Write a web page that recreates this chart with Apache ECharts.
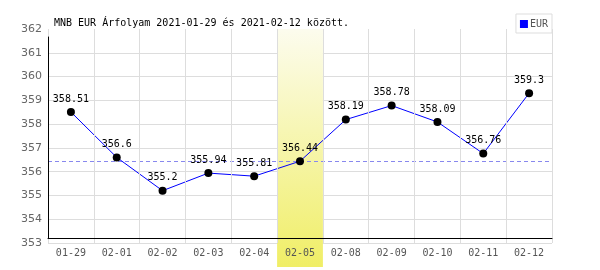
<!DOCTYPE html>
<html><head><meta charset="utf-8">
<script src="https://cdn.jsdelivr.net/npm/echarts@6/dist/echarts.min.js"></script>
<style>html,body{margin:0;padding:0;background:#fff}#c{width:600px;height:270px}</style>
</head><body><div id="c"></div>
<script>
const categories = ['01-29','02-01','02-02','02-03','02-04','02-05','02-08','02-09','02-10','02-11','02-12'];
const eurValues = [358.51, 356.6, 355.2, 355.94, 355.81, 356.44, 358.19, 358.78, 358.09, 356.76, 359.3];
const highlightCategory = '02-05';
const referenceValue = 356.44;
const yMin = 353, yMax = 362, yInterval = 1;
const titleText = 'MNB EUR Árfolyam 2021-01-29 és 2021-02-12 között.';
const seriesName = 'EUR';

const mono = 'DejaVu Sans Mono';
const highlightData = categories.map(c => (c === highlightCategory ? 1 : null));
const chart = echarts.init(document.getElementById('c'), null, {renderer: 'canvas'});
chart.setOption({
  animation: false,
  backgroundColor: '#fff',
  title: {text: titleText, left: 49, top: 13, textStyle: {fontFamily: mono, fontSize: 10, fontWeight: 'normal', color: '#000'}},
  legend: {
    data: [{name: seriesName, itemStyle: {color: '#0000ff'}}], right: 48, top: 14, orient: 'vertical',
    borderColor: '#ddd', borderWidth: 1, padding: [5, 4, 4, 4],
    icon: 'rect', itemWidth: 8, itemHeight: 8, itemGap: 2,
    textStyle: {fontFamily: mono, fontSize: 10, color: '#555', padding: [0, 0, 0, -3]}
  },
  grid: [
    {left: 48, right: 48, top: 29, bottom: 27, containLabel: false},
    {left: 48, right: 48, top: 37, bottom: 32, containLabel: false},
    {left: 48, right: 48, top: 29, bottom: 3, containLabel: false}
  ],
  xAxis: [
    {type: 'category', data: categories, gridIndex: 0, boundaryGap: true, z: 10,
     axisLine: {show: false}, axisTick: {show: false},
     axisLabel: {fontFamily: mono, fontSize: 10, color: '#555', margin: 5},
     splitLine: {show: true, lineStyle: {color: '#ddd', width: 1}}},
    {type: 'category', data: categories, gridIndex: 1, z: 10,
     axisLine: {show: true, lineStyle: {color: '#000', width: 1}}, axisTick: {show: false},
     axisLabel: {show: false}, splitLine: {show: false}},
    {type: 'category', data: categories, gridIndex: 2, show: false}
  ],
  yAxis: [
    {type: 'value', min: yMin, max: yMax, interval: yInterval, gridIndex: 0,
     axisLine: {show: false}, axisTick: {show: false},
     axisLabel: {fontFamily: 'DejaVu Sans', fontSize: 11, color: '#666', margin: 6},
     splitLine: {show: true, showMaxLine: false, lineStyle: {color: '#ddd', width: 1}}},
    {type: 'value', min: 0, max: 1, gridIndex: 1, z: 10,
     axisLine: {show: true, lineStyle: {color: '#000', width: 1}}, axisTick: {show: false},
     axisLabel: {show: false}, splitLine: {show: false}},
    {type: 'value', min: 0, max: 1, gridIndex: 2, show: false}
  ],
  series: [{
    name: 'highlight', type: 'bar', data: highlightData, xAxisIndex: 2, yAxisIndex: 2, z: 2,
    barWidth: '100%', silent: true,
    itemStyle: {color: {type: 'linear', x: 0, y: 0, x2: 0, y2: 1,
      colorStops: [{offset: 0, color: '#fcfcee'}, {offset: 1, color: '#f0ee66'}]}}
  }, {
    name: seriesName, type: 'line', data: eurValues, xAxisIndex: 0, yAxisIndex: 0,
    z: 5,
    lineStyle: {color: '#0000ff', width: 1},
    itemStyle: {color: '#000'},
    symbol: 'circle', symbolSize: 8, showAllSymbol: true,
    label: {show: true, position: 'top', distance: 4, fontFamily: mono, fontSize: 10, color: '#000'},
    markLine: {
      silent: true, symbol: 'none', label: {show: false},
      lineStyle: {color: '#8888ee', type: [4, 3], width: 1, opacity: 1},
      data: [{yAxis: referenceValue}]
    }
  }]
});
</script></body></html>
